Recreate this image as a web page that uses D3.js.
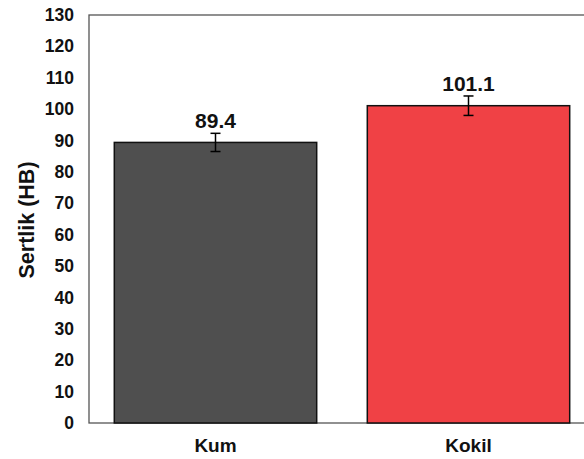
<!DOCTYPE html>
<html>
<head>
<meta charset="utf-8">
<script src="https://cdn.jsdelivr.net/npm/d3@7"></script>
<style>
  body { margin: 0; background: #fff; }
  svg { display: block; font-family: "Liberation Sans", Arial, sans-serif; }
</style>
</head>
<body>
<svg id="chart" width="584" height="459"></svg>
<script>
// chart data
var categories = ['Kum', 'Kokil'];
var values = [89.4, 101.1];
var errors = [2.9, 3.1];
var valueLabels = ['89.4', '101.1'];
var barColors = ['#4f4f4f', '#f04145'];
var yTicks = [0, 10, 20, 30, 40, 50, 60, 70, 80, 90, 100, 110, 120, 130];

var margin = {left: 89, top: 15, right: -11, bottom: 36};
var width = 584 - margin.left - margin.right;
var height = 459 - margin.top - margin.bottom;

var svg = d3.select('#chart');
var g = svg.append('g').attr('transform', 'translate(' + margin.left + ',' + margin.top + ')');

var xs = d3.scaleBand().domain(categories).range([0, width]).paddingInner(0.2).paddingOuter(0.1);
var ys = d3.scaleLinear().domain([0, 130]).range([height, 0]);

// frame
g.append('rect')
    .attr('x', 0).attr('y', 0)
    .attr('width', width).attr('height', height)
    .attr('fill', 'none')
    .attr('stroke', '#555')
    .attr('stroke-width', 1.3);

// bars
g.selectAll('rect.bar').data(values).enter().append('rect')
    .attr('class', 'bar')
    .attr('x', function (d, i) { return xs(categories[i]); })
    .attr('y', function (d) { return ys(d); })
    .attr('width', xs.bandwidth())
    .attr('height', function (d) { return ys(0) - ys(d); })
    .attr('fill', function (d, i) { return barColors[i]; })
    .attr('stroke', '#111')
    .attr('stroke-width', 1.5);

// error bars
var eb = g.selectAll('g.err').data(values).enter().append('g').attr('class', 'err');
var cx = function (d, i) { return xs(categories[i]) + xs.bandwidth() / 2; };
eb.append('line')
    .attr('x1', cx).attr('x2', cx)
    .attr('y1', function (d, i) { return ys(d + errors[i]); })
    .attr('y2', function (d, i) { return ys(d - errors[i]); })
    .attr('stroke', '#000').attr('stroke-width', 1.5);
[1, -1].forEach(function (s) {
    eb.append('line')
        .attr('x1', function (d, i) { return cx(d, i) - 5; })
        .attr('x2', function (d, i) { return cx(d, i) + 5; })
        .attr('y1', function (d, i) { return ys(d + s * errors[i]); })
        .attr('y2', function (d, i) { return ys(d + s * errors[i]); })
        .attr('stroke', '#000').attr('stroke-width', 1.5);
});

// value labels
g.selectAll('text.val').data(values).enter().append('text')
    .attr('class', 'val')
    .attr('x', cx)
    .attr('y', function (d, i) { return ys(d + errors[i]) - 5; })
    .attr('text-anchor', 'middle')
    .attr('font-size', 21)
    .attr('font-weight', 'bold')
    .attr('fill', '#111')
    .text(function (d, i) { return valueLabels[i]; });

// y axis
var yAxis = g.append('g').call(d3.axisLeft(ys).tickValues(yTicks).tickSize(0).tickPadding(15));
yAxis.select('.domain').remove();
yAxis.selectAll('text')
    .attr('font-size', 17.5)
    .attr('font-weight', 'bold')
    .attr('fill', '#111')
    .attr('font-family', '"Liberation Sans", Arial, sans-serif');

// x axis
var xAxis = g.append('g').attr('transform', 'translate(0,' + height + ')')
    .call(d3.axisBottom(xs).tickSize(0).tickPadding(15.5));
xAxis.select('.domain').remove();
xAxis.selectAll('text')
    .attr('font-size', 19)
    .attr('font-weight', 'bold')
    .attr('fill', '#111')
    .attr('font-family', '"Liberation Sans", Arial, sans-serif');

// y title
svg.append('text')
    .attr('transform', 'translate(34,' + (margin.top + height / 2 + 1) + ') rotate(-90)')
    .attr('text-anchor', 'middle')
    .attr('font-size', 21.5)
    .attr('font-weight', 'bold')
    .attr('fill', '#111')
    .text('Sertlik (HB)');
</script>
</body>
</html>
